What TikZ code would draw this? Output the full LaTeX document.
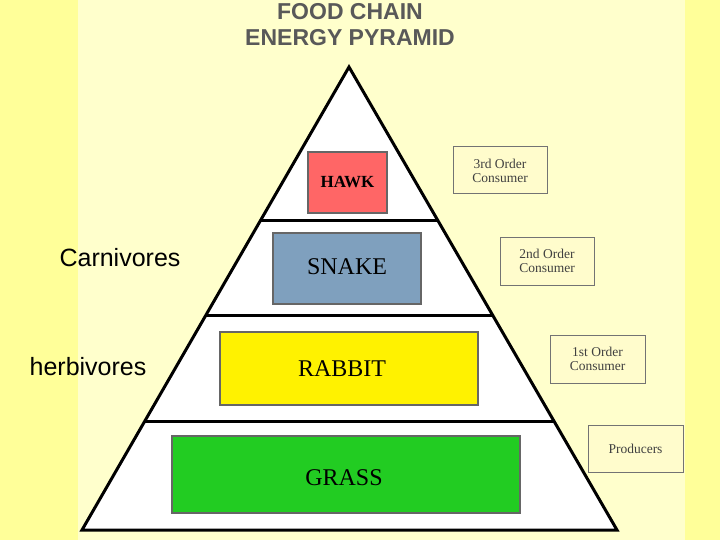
\documentclass[tikz,border=0pt]{standalone}
\usepackage{fontspec}
\setmainfont{Liberation Serif}
\setsansfont{Liberation Sans}
\definecolor{bgout}{RGB}{255,255,153}
\definecolor{bgin}{RGB}{255,255,204}
\definecolor{snakec}{RGB}{127,160,190}
\definecolor{grassc}{RGB}{34,204,34}
\begin{document}
\begin{tikzpicture}[x=1pt,y=-1pt,
  lvl/.style={draw=black!60,line width=1.5pt},
  tag/.style={draw=black!55,line width=1pt,fill=white!80!yellow,font=\fontsize{13.5}{14}\selectfont,align=center,text=black!75,inner sep=0pt},
  side/.style={font=\sffamily\fontsize{25}{27}\selectfont}]
\fill[bgout] (0,0) rectangle (720,540);
\fill[bgin] (78,0) rectangle (685,540);
\useasboundingbox (0,0) rectangle (720,540);
\node[font=\sffamily\bfseries\fontsize{23}{26}\selectfont,text=black!65,align=center] (title) at (350,25) {FOOD CHAIN\\ENERGY PYRAMID};
\filldraw[fill=white,draw=black,line width=3pt,line join=miter] (349,67) coordinate (apex) -- (617,530) -- (82,530) -- cycle;
\begin{scope}
\clip (349,67) -- (617,530) -- (82,530) -- cycle;
\draw[line width=3pt] (0,221) -- (720,221) (0,315) -- (720,315) (0,421) -- (720,421);
\end{scope}
\filldraw[lvl,fill=red!60!white] (308,152) rectangle (387,213);
\node[font=\bfseries\fontsize{17}{18}\selectfont] (hawk) at (347.5,182.5) {HAWK};
\filldraw[lvl,fill=snakec] (273,233) rectangle (421,304);
\node[font=\fontsize{24}{26}\selectfont] (snake) at (347,267) {SNAKE};
\filldraw[lvl,fill=yellow] (220,332) rectangle (478,405);
\node[font=\fontsize{24}{26}\selectfont] (rabbit) at (342,369) {RABBIT};
\filldraw[lvl,fill=grassc] (172,436) rectangle (520,513);
\node[font=\fontsize{24}{26}\selectfont] (grass) at (344,478) {GRASS};
\node[tag,minimum width=94pt,minimum height=47pt] (t3) at (500,170.5) {3rd Order\\Consumer};
\node[tag,minimum width=94pt,minimum height=48pt] (t2) at (547,261) {2nd Order\\Consumer};
\node[tag,minimum width=95pt,minimum height=48pt] (t1) at (597.5,359) {1st Order\\Consumer};
\node[tag,minimum width=95pt,minimum height=47pt] (t0) at (635.5,448.5) {Producers};
\node[side] (carn) at (120,258) {Carnivores};
\node[side] (herb) at (88,367) {herbivores};
\end{tikzpicture}
\end{document}
